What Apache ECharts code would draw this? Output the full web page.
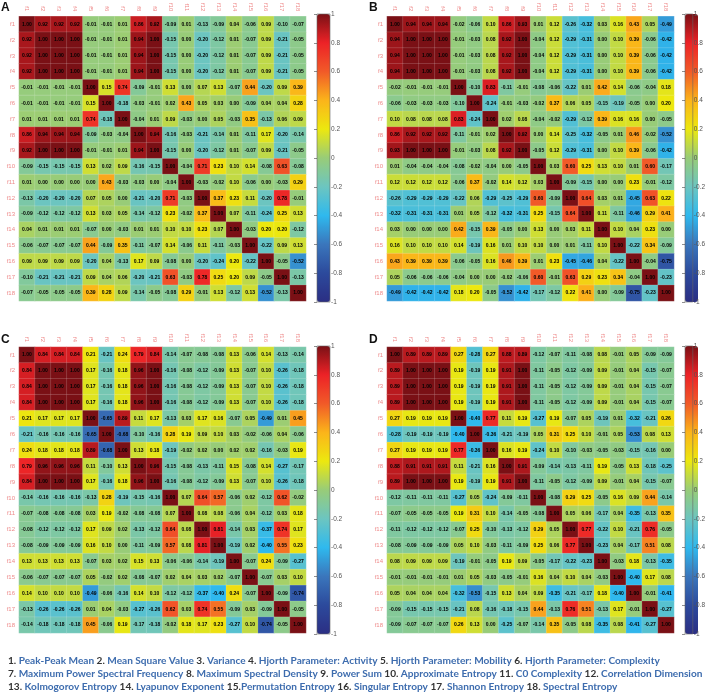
<!DOCTYPE html>
<html><head><meta charset="utf-8">
<style>html,body{margin:0;padding:0;background:#fff}#c{width:708px;height:694px}</style>
<script src="https://cdn.jsdelivr.net/npm/echarts@6/dist/echarts.min.js"></script>
</head><body><div id="c"></div>
<script>
const features=['f1','f2','f3','f4','f5','f6','f7','f8','f9','f10','f11','f12','f13','f14','f15','f16','f17','f18'];
const panelLetters=['A','B','C','D'];
const panelA=[
[1.00,0.92,0.92,0.92,-0.01,-0.01,0.01,0.86,0.92,-0.09,0.01,-0.13,-0.09,0.04,-0.06,0.09,-0.10,-0.07],
[0.92,1.00,1.00,1.00,-0.01,-0.01,0.01,0.94,1.00,-0.15,0.00,-0.20,-0.12,0.01,-0.07,0.09,-0.21,-0.05],
[0.92,1.00,1.00,1.00,-0.01,-0.01,0.01,0.94,1.00,-0.15,0.00,-0.20,-0.12,0.01,-0.07,0.09,-0.21,-0.05],
[0.92,1.00,1.00,1.00,-0.01,-0.01,0.01,0.94,1.00,-0.15,0.00,-0.20,-0.12,0.01,-0.07,0.09,-0.21,-0.05],
[-0.01,-0.01,-0.01,-0.01,1.00,0.15,0.74,-0.09,-0.01,0.13,0.00,0.07,0.13,-0.07,0.44,-0.20,0.09,0.39],
[-0.01,-0.01,-0.01,-0.01,0.15,1.00,-0.18,-0.03,-0.01,0.02,0.43,0.05,0.03,0.00,-0.09,0.04,0.04,0.28],
[0.01,0.01,0.01,0.01,0.74,-0.18,1.00,-0.04,0.01,0.09,-0.03,0.00,0.05,-0.03,0.35,-0.13,0.06,0.09],
[0.86,0.94,0.94,0.94,-0.09,-0.03,-0.04,1.00,0.94,-0.16,-0.03,-0.21,-0.14,0.01,-0.11,0.17,-0.20,-0.14],
[0.92,1.00,1.00,1.00,-0.01,-0.01,0.01,0.94,1.00,-0.15,0.00,-0.20,-0.12,0.01,-0.07,0.09,-0.21,-0.05],
[-0.09,-0.15,-0.15,-0.15,0.13,0.02,0.09,-0.16,-0.15,1.00,-0.04,0.71,0.23,0.10,0.14,-0.08,0.63,-0.08],
[0.01,0.00,0.00,0.00,0.00,0.43,-0.03,-0.03,0.00,-0.04,1.00,-0.03,-0.02,0.10,-0.06,0.00,-0.03,0.29],
[-0.13,-0.20,-0.20,-0.20,0.07,0.05,0.00,-0.21,-0.20,0.71,-0.03,1.00,0.37,0.23,0.11,-0.20,0.78,-0.01],
[-0.09,-0.12,-0.12,-0.12,0.13,0.03,0.05,-0.14,-0.12,0.23,-0.02,0.37,1.00,0.07,-0.11,-0.24,0.25,0.13],
[0.04,0.01,0.01,0.01,-0.07,0.00,-0.03,0.01,0.01,0.10,0.10,0.23,0.07,1.00,-0.03,0.20,0.20,-0.12],
[-0.06,-0.07,-0.07,-0.07,0.44,-0.09,0.35,-0.11,-0.07,0.14,-0.06,0.11,-0.11,-0.03,1.00,-0.22,0.09,0.13],
[0.09,0.09,0.09,0.09,-0.20,0.04,-0.13,0.17,0.09,-0.08,0.00,-0.20,-0.24,0.20,-0.22,1.00,-0.05,-0.52],
[-0.10,-0.21,-0.21,-0.21,0.09,0.04,0.06,-0.20,-0.21,0.63,-0.03,0.78,0.25,0.20,0.09,-0.05,1.00,-0.13],
[-0.07,-0.05,-0.05,-0.05,0.39,0.28,0.09,-0.14,-0.05,-0.08,0.29,-0.01,0.13,-0.12,0.13,-0.52,-0.13,1.00]];
const panelB=[
[1.00,0.94,0.94,0.94,-0.02,-0.06,0.10,0.86,0.93,0.01,0.12,-0.26,-0.32,0.03,0.16,0.43,0.05,-0.49],
[0.94,1.00,1.00,1.00,-0.01,-0.03,0.08,0.92,1.00,-0.04,0.12,-0.29,-0.31,0.00,0.10,0.39,-0.06,-0.42],
[0.94,1.00,1.00,1.00,-0.01,-0.03,0.08,0.92,1.00,-0.04,0.12,-0.29,-0.31,0.00,0.10,0.39,-0.06,-0.42],
[0.94,1.00,1.00,1.00,-0.01,-0.03,0.08,0.92,1.00,-0.04,0.12,-0.29,-0.31,0.00,0.10,0.39,-0.06,-0.42],
[-0.02,-0.01,-0.01,-0.01,1.00,-0.10,0.83,-0.11,-0.01,-0.08,-0.06,-0.22,0.01,0.42,0.14,-0.06,-0.04,0.18],
[-0.06,-0.03,-0.03,-0.03,-0.10,1.00,-0.24,-0.01,-0.03,-0.02,0.37,0.06,0.05,-0.15,-0.19,-0.05,0.00,0.20],
[0.10,0.08,0.08,0.08,0.83,-0.24,1.00,0.02,0.08,-0.04,-0.02,-0.29,-0.12,0.39,0.16,0.16,0.00,-0.05],
[0.86,0.92,0.92,0.92,-0.11,-0.01,0.02,1.00,0.92,0.00,0.14,-0.25,-0.32,-0.05,0.01,0.46,-0.02,-0.52],
[0.93,1.00,1.00,1.00,-0.01,-0.03,0.08,0.92,1.00,-0.05,0.12,-0.29,-0.31,0.00,0.10,0.39,-0.06,-0.42],
[0.01,-0.04,-0.04,-0.04,-0.08,-0.02,-0.04,0.00,-0.05,1.00,0.03,0.60,0.25,0.13,0.10,0.01,0.60,-0.17],
[0.12,0.12,0.12,0.12,-0.06,0.37,-0.02,0.14,0.12,0.03,1.00,-0.09,-0.15,0.00,0.00,0.23,-0.01,-0.12],
[-0.26,-0.29,-0.29,-0.29,-0.22,0.06,-0.29,-0.25,-0.29,0.60,-0.09,1.00,0.64,0.03,0.01,-0.45,0.63,0.22],
[-0.32,-0.31,-0.31,-0.31,0.01,0.05,-0.12,-0.32,-0.31,0.25,-0.15,0.64,1.00,0.11,-0.11,-0.46,0.29,0.41],
[0.03,0.00,0.00,0.00,0.42,-0.15,0.39,-0.05,0.00,0.13,0.00,0.03,0.11,1.00,0.10,0.04,0.23,0.00],
[0.16,0.10,0.10,0.10,0.14,-0.19,0.16,0.01,0.10,0.10,0.00,0.01,-0.11,0.10,1.00,-0.22,0.34,-0.09],
[0.43,0.39,0.39,0.39,-0.06,-0.05,0.16,0.46,0.39,0.01,0.23,-0.45,-0.46,0.04,-0.22,1.00,-0.04,-0.75],
[0.05,-0.06,-0.06,-0.06,-0.04,0.00,0.00,-0.02,-0.06,0.60,-0.01,0.63,0.29,0.23,0.34,-0.04,1.00,-0.23],
[-0.49,-0.42,-0.42,-0.42,0.18,0.20,-0.05,-0.52,-0.42,-0.17,-0.12,0.22,0.41,0.00,-0.09,-0.75,-0.23,1.00]];
const panelC=[
[1.00,0.84,0.84,0.84,0.21,-0.21,0.24,0.79,0.84,-0.14,-0.07,-0.08,-0.08,0.13,-0.06,0.14,-0.13,-0.14],
[0.84,1.00,1.00,1.00,0.17,-0.16,0.18,0.96,1.00,-0.16,-0.08,-0.12,-0.09,0.13,-0.07,0.10,-0.26,-0.18],
[0.84,1.00,1.00,1.00,0.17,-0.16,0.18,0.96,1.00,-0.16,-0.08,-0.12,-0.09,0.13,-0.07,0.10,-0.26,-0.18],
[0.84,1.00,1.00,1.00,0.17,-0.16,0.18,0.96,1.00,-0.16,-0.08,-0.12,-0.09,0.13,-0.07,0.10,-0.26,-0.18],
[0.21,0.17,0.17,0.17,1.00,-0.65,0.89,0.11,0.17,-0.13,0.03,0.17,0.16,-0.07,0.05,-0.49,0.01,0.45],
[-0.21,-0.16,-0.16,-0.16,-0.65,1.00,-0.68,-0.10,-0.16,0.28,0.19,0.09,0.10,0.03,-0.02,-0.06,0.04,-0.06],
[0.24,0.18,0.18,0.18,0.89,-0.68,1.00,0.13,0.18,-0.19,-0.02,0.02,0.00,0.02,0.02,-0.16,-0.03,0.19],
[0.79,0.96,0.96,0.96,0.11,-0.10,0.13,1.00,0.96,-0.15,-0.08,-0.13,-0.11,0.15,-0.08,0.14,-0.27,-0.17],
[0.84,1.00,1.00,1.00,0.17,-0.16,0.18,0.96,1.00,-0.16,-0.08,-0.12,-0.09,0.13,-0.07,0.10,-0.26,-0.18],
[-0.14,-0.16,-0.16,-0.16,-0.13,0.28,-0.19,-0.15,-0.16,1.00,0.07,0.64,0.57,-0.06,0.02,-0.12,0.62,-0.02],
[-0.07,-0.08,-0.08,-0.08,0.03,0.19,-0.02,-0.08,-0.08,0.07,1.00,0.08,0.08,-0.06,0.04,-0.12,0.03,0.18],
[-0.08,-0.12,-0.12,-0.12,0.17,0.09,0.02,-0.13,-0.12,0.64,0.08,1.00,0.81,-0.14,0.03,-0.37,0.74,0.17],
[-0.08,-0.09,-0.09,-0.09,0.16,0.10,0.00,-0.11,-0.09,0.57,0.08,0.81,1.00,-0.19,0.02,-0.40,0.55,0.23],
[0.13,0.13,0.13,0.13,-0.07,0.03,0.02,0.15,0.13,-0.06,-0.06,-0.14,-0.19,1.00,-0.07,0.24,-0.09,-0.27],
[-0.06,-0.07,-0.07,-0.07,0.05,-0.02,0.02,-0.08,-0.07,0.02,0.04,0.03,0.02,-0.07,1.00,-0.07,0.03,0.10],
[0.14,0.10,0.10,0.10,-0.49,-0.06,-0.16,0.14,0.10,-0.12,-0.12,-0.37,-0.40,0.24,-0.07,1.00,-0.09,-0.74],
[-0.13,-0.26,-0.26,-0.26,0.01,0.04,-0.03,-0.27,-0.26,0.62,0.03,0.74,0.55,-0.09,0.03,-0.09,1.00,-0.05],
[-0.14,-0.18,-0.18,-0.18,0.45,-0.06,0.19,-0.17,-0.18,-0.02,0.18,0.17,0.23,-0.27,0.10,-0.74,-0.05,1.00]];
const panelD=[
[1.00,0.89,0.89,0.89,0.27,-0.28,0.27,0.88,0.89,-0.12,-0.07,-0.11,-0.08,0.08,-0.01,0.05,-0.09,-0.09],
[0.89,1.00,1.00,1.00,0.19,-0.19,0.19,0.91,1.00,-0.11,-0.05,-0.12,-0.09,0.09,-0.01,0.04,-0.15,-0.07],
[0.89,1.00,1.00,1.00,0.19,-0.19,0.19,0.91,1.00,-0.11,-0.05,-0.12,-0.09,0.09,-0.01,0.04,-0.15,-0.07],
[0.89,1.00,1.00,1.00,0.19,-0.19,0.19,0.91,1.00,-0.11,-0.05,-0.12,-0.09,0.09,-0.01,0.04,-0.15,-0.07],
[0.27,0.19,0.19,0.19,1.00,-0.40,0.77,0.11,0.19,-0.27,0.19,-0.07,0.05,-0.19,0.01,-0.32,-0.21,0.26],
[-0.28,-0.19,-0.19,-0.19,-0.40,1.00,-0.36,-0.21,-0.19,0.05,0.31,0.25,0.10,-0.01,0.05,-0.53,0.08,0.13],
[0.27,0.19,0.19,0.19,0.77,-0.36,1.00,0.16,0.19,-0.24,0.10,-0.10,-0.03,-0.05,-0.03,-0.15,-0.16,0.00],
[0.88,0.91,0.91,0.91,0.11,-0.21,0.16,1.00,0.91,-0.09,-0.14,-0.13,-0.11,0.19,-0.05,0.13,-0.18,-0.25],
[0.89,1.00,1.00,1.00,0.19,-0.19,0.19,0.91,1.00,-0.11,-0.05,-0.12,-0.09,0.09,-0.01,0.04,-0.15,-0.07],
[-0.12,-0.11,-0.11,-0.11,-0.27,0.05,-0.24,-0.09,-0.11,1.00,-0.08,0.29,0.25,-0.05,0.16,0.09,0.44,-0.14],
[-0.07,-0.05,-0.05,-0.05,0.19,0.31,0.10,-0.14,-0.05,-0.08,1.00,0.05,0.06,-0.17,0.04,-0.35,-0.13,0.35],
[-0.11,-0.12,-0.12,-0.12,-0.07,0.25,-0.10,-0.13,-0.12,0.29,0.05,1.00,0.77,-0.22,0.10,-0.21,0.76,-0.05],
[-0.08,-0.09,-0.09,-0.09,0.05,0.10,-0.03,-0.11,-0.09,0.25,0.06,0.77,1.00,-0.23,0.04,-0.17,0.51,0.08],
[0.08,0.09,0.09,0.09,-0.19,-0.01,-0.05,0.19,0.09,-0.05,-0.17,-0.22,-0.23,1.00,-0.03,0.18,-0.13,-0.35],
[-0.01,-0.01,-0.01,-0.01,0.01,0.05,-0.03,-0.05,-0.01,0.16,0.04,0.10,0.04,-0.03,1.00,-0.40,0.17,0.08],
[0.05,0.04,0.04,0.04,-0.32,-0.53,-0.15,0.13,0.04,0.09,-0.35,-0.21,-0.17,0.18,-0.40,1.00,-0.01,-0.41],
[-0.09,-0.15,-0.15,-0.15,-0.21,0.08,-0.16,-0.18,-0.15,0.44,-0.13,0.76,0.51,-0.13,0.17,-0.01,1.00,-0.27],
[-0.09,-0.07,-0.07,-0.07,0.26,0.13,0.00,-0.25,-0.07,-0.14,0.35,-0.05,0.08,-0.35,0.08,-0.41,-0.27,1.00]];
const colorStops=['#2b2e83','#2c4a9c','#3a76bc','#2fb9ee','#6cc5c0','#98cc78','#ece80f','#fbb41a','#f15a28','#ec2227','#7a1015'];
const legendLines=[
 ['1. ','Peak-Peak Mean',' 2. ','Mean Square Value',' 3. ','Variance',' 4. ','Hjorth Parameter: Activity',' 5. ','Hjorth Parameter: Mobility',' 6. ','Hjorth Parameter: Complexity'],
 ['7. ','Maximum Power Spectral Frequency',' 8. ','Maximum Spectral Density',' 9. ','Power Sum',' 10. ','Approximate Entropy',' 11. ','C0 Complexity',' 12. ','Correlation Dimension'],
 ['13. ','Kolmogorov Entropy',' 14. ','Lyapunov Exponent',' 15.','Permutation Entropy',' 16. ','Singular Entropy',' 17. ','Shannon Entropy',' 18. ','Spectral Entropy']];

const panels=[panelA,panelB,panelC,panelD];
const layout=[{l:19,t:15},{l:387,t:15},{l:19,t:347},{l:387,t:347}];
const cellsW=287,cellsH=286,barGap=298,barW=13,barTop=-1,barH=288;
const FONT='"Liberation Sans",Arial,sans-serif';
const grid=[],xAxis=[],yAxis=[],series=[],visualMap=[],title=[];
panels.forEach((m,i)=>{
  const p=layout[i];
  grid.push({left:p.l,top:p.t,width:cellsW,height:cellsH});
  xAxis.push({type:'category',gridIndex:i,position:'top',data:features,
    axisLine:{show:false},axisTick:{show:false},
    axisLabel:{rotate:90,fontSize:6,color:'#ee8a8a',margin:5,interval:0,fontFamily:FONT}});
  yAxis.push({type:'category',gridIndex:i,inverse:true,data:features,
    axisLine:{show:false},axisTick:{show:false},
    axisLabel:{fontSize:6,color:'#ee8a8a',margin:4,interval:0,fontFamily:FONT}});
  const data=[];
  m.forEach((row,r)=>row.forEach((v,c)=>data.push([c,r,v])));
  series.push({type:'heatmap',xAxisIndex:i,yAxisIndex:i,data,silent:true,
    itemStyle:{borderColor:'rgba(255,255,255,0.3)',borderWidth:0.5},
    label:{show:true,fontSize:5,fontWeight:'bold',color:'#000',fontFamily:FONT,textBorderWidth:0,textBorderColor:'transparent',
      formatter:d=>d.value[2].toFixed(2)},
    emphasis:{disabled:true}});
  visualMap.push({type:'continuous',seriesIndex:i,min:-1,max:1,calculable:false,realtime:false,
    left:p.l+barGap,top:p.t+barTop,itemWidth:barW,itemHeight:barH,padding:0,text:null,showLabel:false,
    hoverLink:false,inRange:{color:colorStops},z:3});
  title.push({text:panelLetters[i],left:p.l-18,top:p.t-13,padding:0,
    textStyle:{fontSize:12,fontWeight:'bold',color:'#111',fontFamily:FONT}});
});
panels.forEach((m,i)=>{
  const p=layout[i],g=grid.length;
  grid.push({left:p.l+barGap,top:p.t+barTop,width:barW,height:barH,show:true,borderColor:'#666',borderWidth:0.6,backgroundColor:'transparent',z:6});
  xAxis.push({type:'value',gridIndex:g,min:0,max:1,show:false});
  yAxis.push({type:'value',gridIndex:g,min:-1,max:1,interval:0.2,position:'right',z:7,
    splitLine:{show:false},axisLine:{show:false},
    axisTick:{inside:true,length:3,lineStyle:{color:'#444',width:0.6}},
    axisLabel:{fontSize:6.5,color:'#555',margin:1,fontFamily:FONT,showMinLabel:true,showMaxLabel:true}});
});
const rich={n:{fontSize:10.1,color:'#333',fontFamily:'Lato'},t:{fontSize:10.1,color:'#3d6cae',fontFamily:'Lato'}};
legendLines.forEach((line,i)=>{
  title.push({left:8,top:656+i*13.1,padding:0,
    text:line.map((s,j)=>(j%2?'{t|':'{n|')+s+'}').join(''),
    textStyle:{rich}});
});
const chart=echarts.init(document.getElementById('c'),null,{renderer:'canvas'});
chart.setOption({animation:false,backgroundColor:'#fff',title,grid,xAxis,yAxis,series,visualMap});
</script></body></html>
